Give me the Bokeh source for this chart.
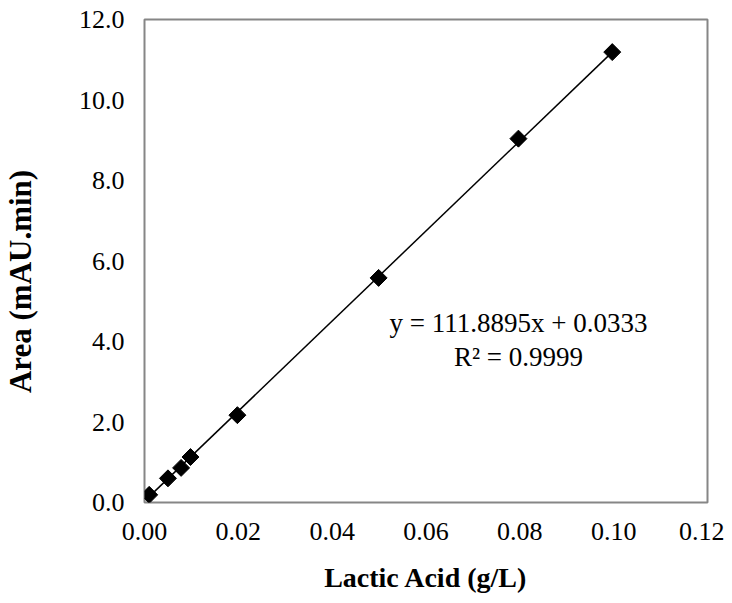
import numpy as np
from bokeh.plotting import figure
from bokeh.layouts import row
from bokeh.models import FixedTicker, PrintfTickFormatter, Label, Range1d
from bokeh.embed import file_html
from bokeh.resources import INLINE

conc = [0.001, 0.005, 0.0078, 0.0098, 0.0198, 0.0499, 0.0797, 0.0997]
area = [0.19, 0.6, 0.86, 1.13, 2.17, 5.58, 9.04, 11.19]
slope = 111.8895
intercept = 0.0333
x_ticks = [0.0, 0.02, 0.04, 0.06, 0.08, 0.10, 0.12]
y_ticks = [0.0, 2.0, 4.0, 6.0, 8.0, 10.0, 12.0]

FONT = "Liberation Serif"
H = 595

# narrow strip holding the vertical y-axis title (its frame is aligned with the main frame)
lab = figure(width=50, height=H, output_backend="svg", toolbar_location=None,
             x_range=Range1d(0, 1), y_range=Range1d(0, 1),
             x_axis_location=None, y_axis_location=None, min_border=0)
lab.grid.visible = False
lab.outline_line_color = None
lab.add_layout(Label(x=0.4, y=0.4576, text="Area (mAU.min)", angle=np.pi / 2,
                     text_font=FONT, text_font_size="31px", text_font_style="bold",
                     text_align="center", text_baseline="middle", text_color="black"))

p = figure(width=674, height=H, output_backend="svg", toolbar_location=None,
           x_range=Range1d(0, 0.12), y_range=Range1d(0, 12),
           min_border_left=94, min_border_top=19, min_border_right=17, min_border_bottom=93)

p.grid.visible = False
p.outline_line_color = "#868686"
p.outline_line_width = 2

for ax in (p.xaxis, p.yaxis):
    ax.axis_line_color = None
    ax.major_tick_line_color = None
    ax.minor_tick_line_color = None
    ax.major_label_text_font = FONT
    ax.major_label_text_font_size = "26px"
    ax.major_label_text_color = "black"
    ax.axis_label_text_font = FONT
    ax.axis_label_text_font_size = "28px"
    ax.axis_label_text_font_style = "bold"
    ax.axis_label_text_color = "black"

p.xaxis.ticker = FixedTicker(ticks=x_ticks)
p.yaxis.ticker = FixedTicker(ticks=y_ticks)
p.xaxis.formatter = PrintfTickFormatter(format="%.2f")
p.yaxis.formatter = PrintfTickFormatter(format="%.1f")
p.xaxis.major_label_standoff = 14
p.yaxis.major_label_standoff = 14
p.xaxis.axis_label = "Lactic Acid (g/L)"
p.xaxis.axis_label_standoff = 19

xl = np.array([min(conc), max(conc)])
p.line(xl, slope * xl + intercept, line_color="black", line_width=1.5)
p.scatter(conc, area, marker="square", angle=np.pi / 4, size=12,
          fill_color="black", line_color="black")

eq = Label(x=0.0797, y=4.45, text=f"y = {slope}x + {intercept}", text_font=FONT,
           text_font_size="27px", text_align="center", text_baseline="middle", text_color="black")
r2 = Label(x=0.0797, y=3.62, text="R² = 0.9999", text_font=FONT,
           text_font_size="27px", text_align="center", text_baseline="middle", text_color="black")
p.add_layout(eq)
p.add_layout(r2)

layout = row(lab, p, spacing=0)
open("out.html", "w").write(file_html(layout, INLINE))
